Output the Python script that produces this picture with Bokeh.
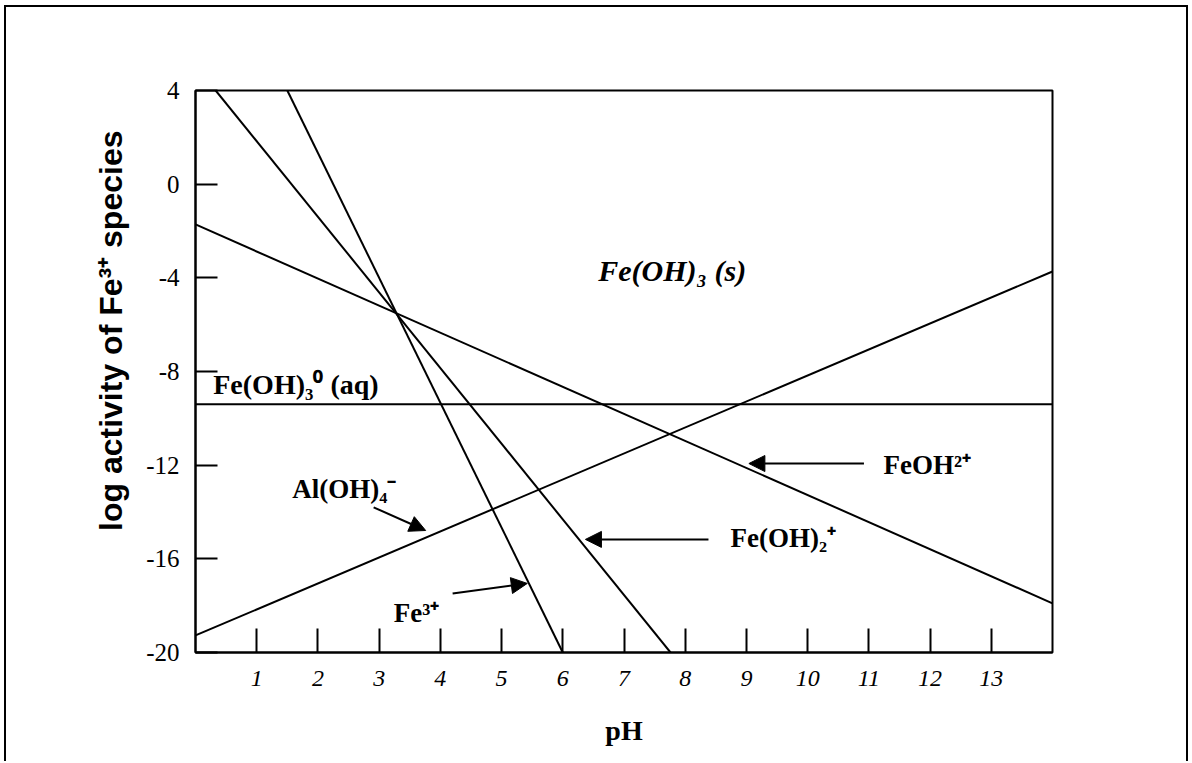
from bokeh.plotting import figure
from bokeh.models import Arrow, NormalHead, Label, Title, FixedTicker, Range1d
from bokeh.embed import file_html
from bokeh.resources import INLINE

# ---- data ----
ph_ticks = [1, 2, 3, 4, 5, 6, 7, 8, 9, 10, 11, 12, 13]
log_ticks = [4, 0, -4, -8, -12, -16, -20]
log_tick_labels = ["4", "0", "-4", "-8", "-12", "-16", "-20"]

# each species line: pH end points and log activity end points
fe3_ph = [1.5, 6.0]
fe3_log = [4.0, -20.0]
feoh2_ph = [0.33, 7.76]          # Fe(OH)2+
feoh2_log = [4.0, -20.0]
feoh_ph = [0.0, 14.0]            # FeOH2+
feoh_log = [-1.72, -17.9]
feoh3aq_ph = [0.0, 14.0]         # Fe(OH)3(aq)
feoh3aq_log = [-9.4, -9.4]
aloh4_ph = [0.0, 14.0]           # Al(OH)4-
aloh4_log = [-19.27, -3.73]

SERIF = "Liberation Serif"
SANS = "Liberation Sans"

p = figure(width=1184, height=756, output_backend="svg", toolbar_location=None,
           x_range=Range1d(0, 14), y_range=Range1d(-20, 4),
           min_border_left=189, min_border_right=138, min_border_top=83, min_border_bottom=111)
p.styles = {"margin-left": "4px", "margin-top": "5px",
            "border-left": "2px solid black", "border-top": "2px solid black",
            "border-right": "2px solid black"}

p.xgrid.visible = False
p.ygrid.visible = False
p.outline_line_color = "black"
p.outline_line_width = 2
p.background_fill_color = "white"
p.border_fill_color = "white"

for xs, ys in [(fe3_ph, fe3_log), (feoh2_ph, feoh2_log), (feoh_ph, feoh_log),
               (feoh3aq_ph, feoh3aq_log), (aloh4_ph, aloh4_log)]:
    p.line(xs, ys, line_color="black", line_width=2)

# axes
xa = p.xaxis[0]
xa.ticker = FixedTicker(ticks=ph_ticks)
xa.major_tick_in = 24
xa.major_tick_out = 0
xa.minor_tick_line_color = None
xa.axis_line_width = 2
xa.major_tick_line_width = 2
xa.major_label_text_font = SERIF
xa.major_label_text_font_style = "italic"
xa.major_label_text_font_size = "24px"
xa.major_label_text_color = "black"
xa.major_label_standoff = 18
xa.axis_label = "pH"
xa.axis_label_text_font = SERIF
xa.axis_label_text_font_style = "bold"
xa.axis_label_text_font_size = "28px"
xa.axis_label_text_color = "black"
xa.axis_label_standoff = 26

ya = p.yaxis[0]
ya.ticker = FixedTicker(ticks=log_ticks)
ya.major_label_overrides = {t: s for t, s in zip(log_ticks, log_tick_labels)}
ya.major_tick_in = 22
ya.major_tick_out = 0
ya.minor_tick_line_color = None
ya.axis_line_width = 2
ya.major_tick_line_width = 2
ya.major_label_text_font = SERIF
ya.major_label_text_font_size = "25px"
ya.major_label_text_color = "black"
ya.major_label_standoff = 16

ytitle = Title(text="log activity of Fe³⁺ species", align="right", offset=40,
               text_font=SANS, text_font_style="bold", text_font_size="32px",
               text_color="black", standoff=30)
p.add_layout(ytitle, "left")

# labels
def lab(x, y, text, size, style="bold", align="left"):
    p.add_layout(Label(x=x, y=y, text=text, text_font=SERIF, text_font_style=style,
                       text_font_size=size, text_color="black", text_align=align,
                       text_baseline="middle"))

lab(6.58, -3.7, "Fe(OH)₃ (s)", "30px", style="bold italic")
lab(0.29, -8.55, "Fe(OH)₃⁰ (aq)", "28px")
lab(1.58, -13.0, "Al(OH)₄⁻", "27px")
lab(11.24, -12.0, "FeOH²⁺", "27px")
lab(8.74, -15.13, "Fe(OH)₂⁺", "27px")
lab(3.24, -18.33, "Fe³⁺", "27px")

# arrows
for xs, ys, xe, ye in [(2.91, -13.8, 3.76, -14.79),
                       (4.20, -17.48, 5.42, -17.05),
                       (8.38, -15.17, 6.37, -15.17),
                       (10.92, -11.93, 9.04, -11.93)]:
    p.add_layout(Arrow(end=NormalHead(size=16, fill_color="black", line_color="black"),
                       x_start=xs, y_start=ys, x_end=xe, y_end=ye,
                       line_color="black", line_width=2))

open("out.html", "w").write(file_html(p, INLINE))
